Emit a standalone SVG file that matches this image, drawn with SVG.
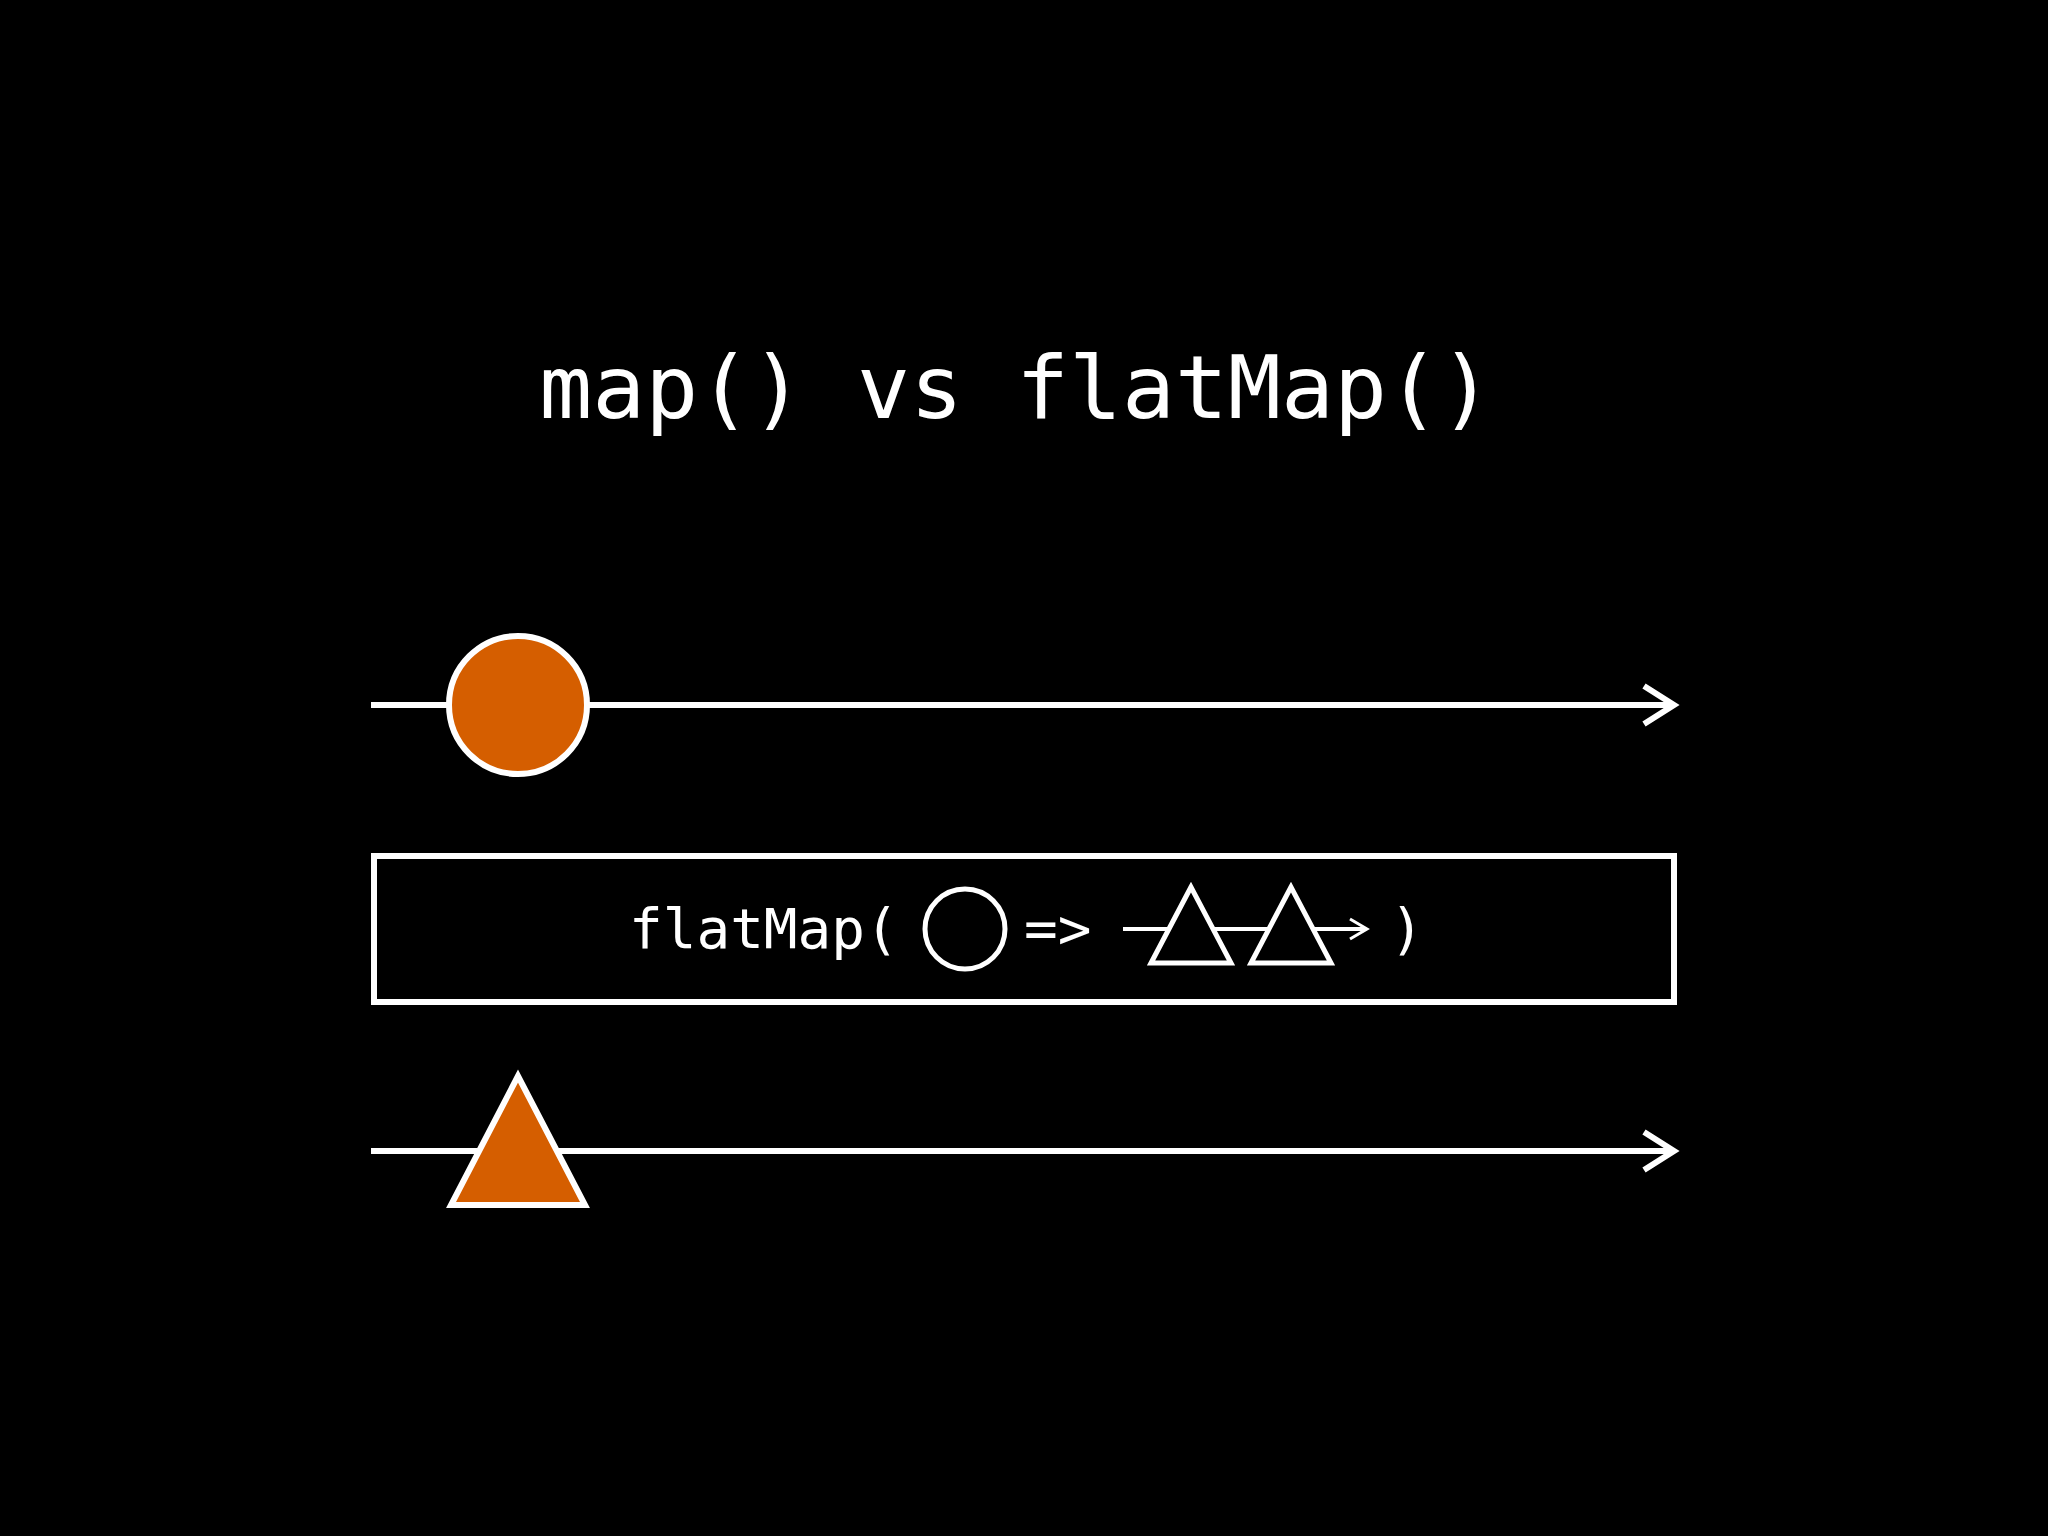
<svg xmlns="http://www.w3.org/2000/svg" width="2048" height="1536" viewBox="0 0 2048 1536">
<style>
.s{stroke:#fff;stroke-width:6;fill:none}
.o{fill:#D55E00;stroke:#fff;stroke-width:6}
.t{fill:#fff;font-family:"DejaVu Sans Mono",monospace}
</style>
<rect width="2048" height="1536" fill="#000"/>
<text class="t" x="1016" y="418" font-size="88" text-anchor="middle">map() vs flatMap()</text>
<g id="connectors">
<line class="s" x1="371" y1="705" x2="1674" y2="705"/>
<polyline class="s" points="1644,686 1674,705 1644,724"/>
<line class="s" x1="371" y1="1151" x2="1674" y2="1151"/>
<polyline class="s" points="1644,1132 1674,1151 1644,1170"/>
</g>
<g id="input"><circle class="o" cx="518" cy="705" r="69"/></g>
<g id="operator">
<rect class="s" x="374" y="856" width="1300" height="146"/>
<text class="t" x="629" y="948" font-size="56">flatMap(</text>
<circle cx="965" cy="929" r="40" fill="none" stroke="#fff" stroke-width="5"/>
<text class="t" x="1024" y="948" font-size="56">=&gt;</text>
<line x1="1123" y1="929" x2="1365" y2="929" stroke="#fff" stroke-width="4"/>
<polyline points="1350,919 1367,929 1350,939" fill="none" stroke="#fff" stroke-width="3"/>
<polygon points="1191,887 1151,963 1231,963" fill="#000" stroke="#fff" stroke-width="5"/>
<polygon points="1291,887 1251,963 1331,963" fill="#000" stroke="#fff" stroke-width="5"/>
<text class="t" x="1390" y="948" font-size="56">)</text>
</g>
<g id="output"><polygon class="o" points="518,1076 451,1205 585,1205"/></g>
</svg>
